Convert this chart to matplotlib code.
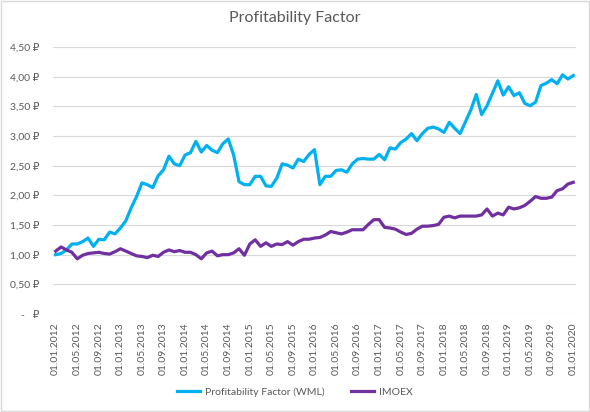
import matplotlib
matplotlib.use('Agg')
import matplotlib.pyplot as plt
import pandas as pd
from matplotlib.ticker import FuncFormatter
from matplotlib.patches import Rectangle

# monthly values, 01.01.2012 - 01.01.2020
dates = pd.date_range('2012-01-01', '2020-01-01', freq='MS')
wml = [1.00, 1.02, 1.08, 1.18, 1.18, 1.22, 1.28, 1.14, 1.26, 1.25, 1.38, 1.35,
       1.45, 1.57, 1.79, 1.98, 2.21, 2.18, 2.13, 2.33, 2.43, 2.66, 2.53, 2.50,
       2.68, 2.72, 2.91, 2.73, 2.84, 2.76, 2.72, 2.87, 2.95, 2.68, 2.23, 2.18,
       2.18, 2.32, 2.32, 2.16, 2.15, 2.29, 2.53, 2.51, 2.46, 2.61, 2.57, 2.69,
       2.77, 2.18, 2.32, 2.32, 2.42, 2.43, 2.39, 2.53, 2.61, 2.62, 2.61, 2.61,
       2.69, 2.60, 2.80, 2.78, 2.89, 2.95, 3.04, 2.92, 3.04, 3.13, 3.15, 3.12,
       3.06, 3.23, 3.13, 3.04, 3.24, 3.44, 3.70, 3.36, 3.51, 3.72, 3.93, 3.69,
       3.83, 3.68, 3.73, 3.55, 3.51, 3.57, 3.85, 3.89, 3.95, 3.88, 4.03, 3.96,
       4.02]
imoex = [1.06, 1.13, 1.08, 1.04, 0.93, 0.99, 1.02, 1.03, 1.04, 1.02, 1.01, 1.05,
         1.10, 1.06, 1.02, 0.98, 0.97, 0.95, 0.99, 0.97, 1.04, 1.08, 1.05, 1.07,
         1.04, 1.04, 1.00, 0.93, 1.03, 1.06, 0.98, 1.00, 1.00, 1.03, 1.10, 0.99,
         1.18, 1.25, 1.14, 1.20, 1.14, 1.18, 1.17, 1.22, 1.16, 1.22, 1.26, 1.26,
         1.28, 1.29, 1.33, 1.39, 1.37, 1.35, 1.38, 1.42, 1.42, 1.42, 1.51, 1.59,
         1.59, 1.46, 1.45, 1.43, 1.38, 1.34, 1.36, 1.43, 1.48, 1.48, 1.49, 1.51,
         1.63, 1.65, 1.62, 1.65, 1.65, 1.65, 1.65, 1.67, 1.77, 1.65, 1.70, 1.67,
         1.80, 1.77, 1.79, 1.83, 1.90, 1.98, 1.95, 1.95, 1.97, 2.08, 2.11, 2.19,
         2.22]
labels = [d.strftime('%d.%m.%Y') for d in dates]

plt.rcParams['font.family'] = ['Lato', 'DejaVu Sans']
gray = '#595959'

fig = plt.figure(figsize=(5.9, 4.12), dpi=100)
ax = fig.add_axes([53 / 590, 1 - 314 / 412, (576 - 53) / 590, (314 - 47) / 412])

x = range(len(dates))
ax.plot(x, wml, color='#00B0F0', lw=2.3, label='Profitability Factor (WML)', solid_joinstyle='round')
ax.plot(x, imoex, color='#7030A0', lw=2.3, label='IMOEX', solid_joinstyle='round')

ax.set_xlim(-0.5, len(dates) - 0.5)
ax.set_ylim(0, 4.5)
ax.set_yticks([i * 0.5 for i in range(10)])


def rub(v, pos):
    if abs(v) < 1e-9:
        return '-   \u20bd'
    return ('%.2f' % v).replace('.', ',') + ' \u20bd'


ax.yaxis.set_major_formatter(FuncFormatter(rub))
ax.set_xticks(range(0, len(dates), 4))
ax.set_xticklabels(labels[::4], rotation=90)
ax.tick_params(axis='both', length=0, colors=gray, labelsize=7.5)
ax.tick_params(axis='y', pad=10)
ax.tick_params(axis='x', pad=6)
ax.grid(axis='y', color='#D9D9D9', lw=0.8)
ax.set_axisbelow(True)
for s in ax.spines.values():
    s.set_visible(False)

fig.text(0.5, 1 - 18 / 412, 'Profitability Factor', ha='center', va='center', fontsize=11.5, color=gray)
fig.legend(loc='center', bbox_to_anchor=(0.5, 1 - 392 / 412), ncol=2, frameon=False,
           fontsize=7.5, labelcolor=gray, handlelength=2.2, columnspacing=2.5, handletextpad=0.5)

fig.patches.append(Rectangle((0.001, 0.002), 0.997, 0.996, transform=fig.transFigure,
                             fill=False, ec='#D9D9D9', lw=1))

fig.savefig('out.png', dpi=100)
